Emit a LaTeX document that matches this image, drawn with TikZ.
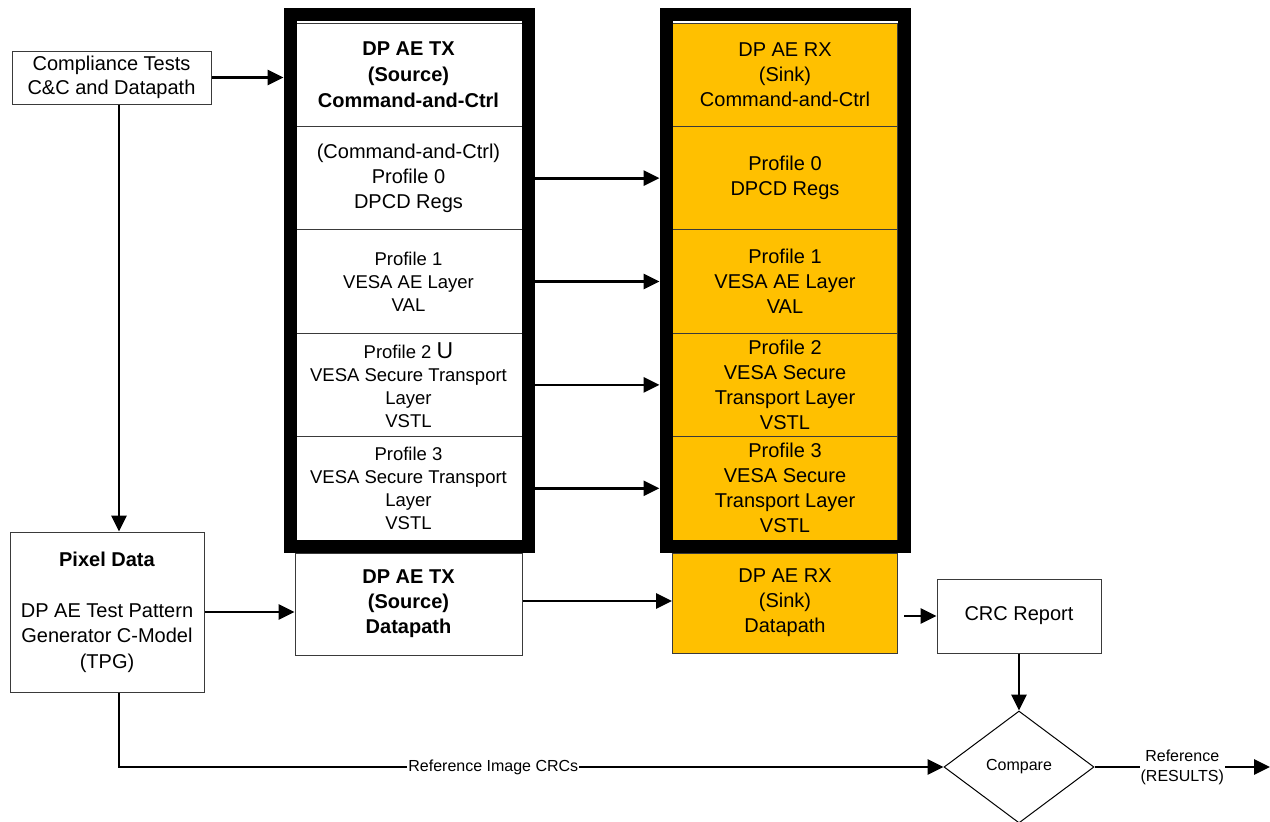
\documentclass[tikz,border=0pt]{standalone}
\usepackage{fontspec}
\setmainfont{Liberation Sans}
\usetikzlibrary{arrows.meta,shapes.geometric}
\definecolor{gold}{HTML}{FFC000}
\definecolor{cellline}{HTML}{3A3A3A}
\newcommand\myfs[2]{\fontsize{#1}{#2}\selectfont}
\begin{document}
\begin{tikzpicture}[x=1pt,y=-1pt,
  box/.style={draw=cellline, line width=1pt, inner sep=0pt, align=center},
  txcell/.style={box, fill=white, minimum width=227pt, minimum height=103.4pt, font=\myfs{18.5}{23}},
  rxcell/.style={box, fill=gold, minimum width=225pt, minimum height=103.4pt, font=\myfs{20}{25}},
  frame/.style={draw=black, line width=13pt, minimum width=238pt, minimum height=532pt, inner sep=0pt},
  arr/.style={line width=2.8pt, -{Triangle[length=16pt,width=15pt]}},
  lbl/.style={fill=white, inner sep=1pt, align=center, font=\myfs{16}{20}}
]
\useasboundingbox (0,0) rectangle (1270,822);
\fill[white] (0,0) rectangle (1270,822);

% TX column
\node[txcell, font=\myfs{20}{26}\bfseries] (tx0) at (408.5,74.7) {DP AE TX\\(Source)\\Command-and-Ctrl};
\node[txcell, font=\myfs{20}{25}] (tx1) at (408.5,178.1) {(Command-and-Ctrl)\\Profile 0\\DPCD Regs};
\node[txcell] (tx2) at (408.5,281.5) {Profile 1\\VESA AE Layer\\VAL};
\node[txcell] (tx3) at (408.5,384.9) {Profile 2 {\myfs{23}{23}U}\\VESA Secure Transport\\Layer\\VSTL};
\node[txcell] (tx4) at (408.5,488.3) {Profile 3\\VESA Secure Transport\\Layer\\VSTL};
\node[frame] (txf) at (409,280.5) {};

% RX column
\node[rxcell] (rx0) at (785,74.7) {DP AE RX\\(Sink)\\Command-and-Ctrl};
\node[rxcell] (rx1) at (785,178.1) {Profile 0\\DPCD Regs};
\node[rxcell] (rx2) at (785,281.5) {Profile 1\\VESA AE Layer\\VAL};
\node[rxcell] (rx3) at (785,384.9) {Profile 2\\VESA Secure\\Transport Layer\\VSTL};
\node[rxcell] (rx4) at (785,488.3) {Profile 3\\VESA Secure\\Transport Layer\\VSTL};
\node[frame] (rxf) at (785,280.5) {};

% Datapath boxes
\node[box, fill=white, minimum width=227pt, minimum height=102pt, font=\myfs{20}{25}\bfseries] (txd) at (408.5,604) {DP AE TX\\(Source)\\Datapath};
\node[box, fill=gold, minimum width=225pt, minimum height=100pt, font=\myfs{20}{25}] (rxd) at (785,603) {DP AE RX\\(Sink)\\Datapath};

% Other boxes
\node[box, minimum width=199pt, minimum height=53pt, font=\myfs{20}{24}] (comp) at (111.5,77.5) {Compliance Tests\\C\&C and Datapath};
\node[box, minimum width=194pt, minimum height=160pt, font=\myfs{20}{25.5}] (pix) at (107,612) {\textbf{Pixel Data}\\[25.5pt]DP AE Test Pattern\\Generator C-Model\\(TPG)};
\node[box, minimum width=164pt, minimum height=74pt, font=\myfs{20}{24}] (crc) at (1019,616) {CRC Report};
\node[box, diamond, draw=black, minimum width=150pt, minimum height=112pt, aspect=1.34, font=\myfs{16}{20}] (cmp) at (1019,767) {Compare};
\coordinate (out) at (1270,767);

% Connectors
\draw[arr] (comp.east) -- (comp.east -| txf.west);
\draw[arr] ([xshift=7.5pt]comp.south) -- ([xshift=7.5pt]comp.south |- pix.north);
\draw[arr] (tx1.east -| txf.east) -- (rx1.west -| rxf.west);
\draw[arr] (tx2.east -| txf.east) -- (rx2.west -| rxf.west);
\draw[arr] (tx3.east -| txf.east) -- (rx3.west -| rxf.west);
\draw[arr] (tx4.east -| txf.east) -- (rx4.west -| rxf.west);
\draw[arr] (pix.east) -- (pix.east -| txd.west);
\draw[arr] ([yshift=3pt]txd.east) -- ([yshift=3pt]txd.east -| rxd.west);
\draw[arr] ([xshift=6pt]rxd.east |- crc.west) -- (crc.west);
\draw[arr] (crc.south) -- (cmp.north);
\draw[arr] ([xshift=12pt]pix.south) |- node[lbl, pos=0.727] {Reference Image CRCs} (cmp.west);
\draw[arr] (cmp.east) -- node[lbl] {Reference\\(RESULTS)} (out);
\end{tikzpicture}
\end{document}
